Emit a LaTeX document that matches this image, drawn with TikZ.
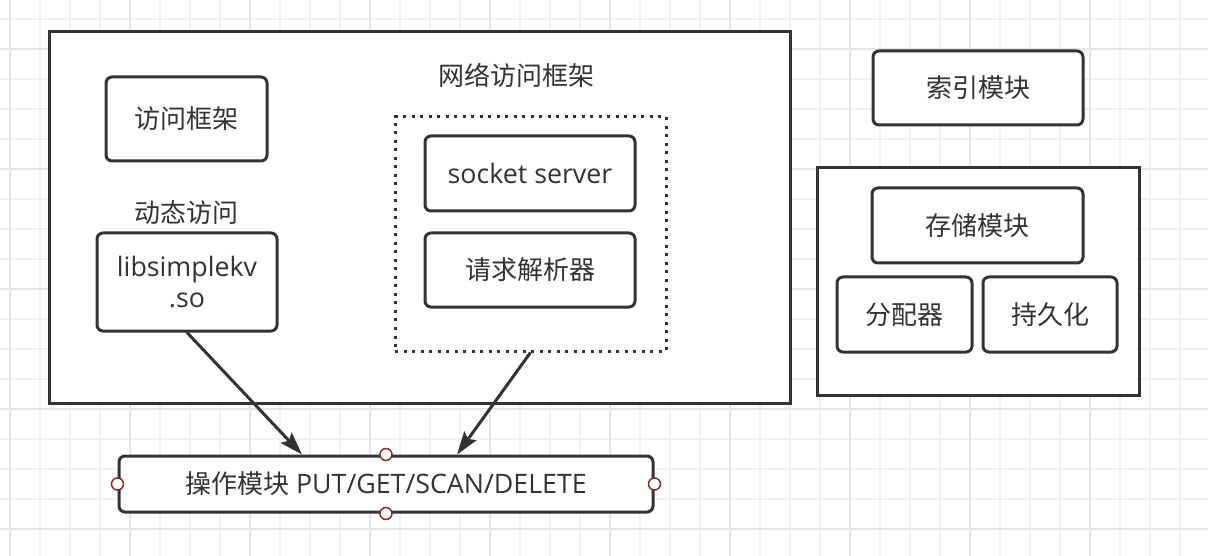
\documentclass[tikz,border=0pt]{standalone}
\usepackage{fontspec}
\setmainfont{Open Sans}[Scale=1.03]
\newfontfamily\cjk{Noto Sans CJK SC}
\usetikzlibrary{arrows.meta}
\definecolor{ln}{HTML}{333333}
\definecolor{txt}{HTML}{333333}
\definecolor{gmin}{HTML}{F2F2F2}
\definecolor{gmaj}{HTML}{E6E6E6}
\definecolor{cpt}{HTML}{8C2A2A}
\tikzset{
  sbox/.style={draw=ln, fill=white, line width=3pt, inner sep=0pt},
  rbox/.style={draw=ln, fill=white, line width=3pt, rounded corners=6pt, inner sep=0pt, align=center, text=txt},
  dotbox/.style={draw=ln, fill=white, line width=3pt, dash pattern=on 3pt off 5.5pt, inner sep=0pt},
  lbl/.style={text=txt, inner sep=0pt},
  conn/.style={draw=ln, line width=3pt, -{Stealth[length=23pt,width=15pt,inset=4pt]}},
  cpoint/.style={circle, draw=cpt, fill=white, line width=1.5pt, minimum size=12pt, inner sep=0pt}
}
\begin{document}
\begin{tikzpicture}[x=1pt,y=-1pt,font=\fontsize{26}{31}\selectfont]
\useasboundingbox (0,0) rectangle (1208,556);
\fill[white] (0,0) rectangle (1208,556);
% grid
\foreach \gx in {10,40,...,1190} \draw[gmin, line width=1.2pt] (\gx,0) -- (\gx,556);
\foreach \gy in {19,49,...,549} \draw[gmin, line width=1.2pt] (0,\gy) -- (1208,\gy);
\foreach \gx in {10,130,...,1190} \draw[gmaj, line width=1.2pt] (\gx,0) -- (\gx,556);
\foreach \gy in {49,169,...,529} \draw[gmaj, line width=1.2pt] (0,\gy) -- (1208,\gy);

% network access frame
\node[sbox, minimum width=741pt, minimum height=371pt] (outer) at (419.5,217.5) {};
\node[lbl] (title) at (516,75) {\cjk 网络访问框架};
\node[rbox, minimum width=161pt, minimum height=84pt] (fw) at (186.5,119) {\cjk 访问框架};
\node[lbl] (dyn) at (186,213) {\cjk 动态访问};
\node[rbox, minimum width=180pt, minimum height=98pt] (lib) at (187,282) {libsimplekv\\.so};
\node[dotbox, minimum width=271pt, minimum height=234pt] (dotted) at (530.5,234) {};
\node[rbox, minimum width=210pt, minimum height=75pt] (sock) at (530,173.5) {socket server};
\node[rbox, minimum width=210pt, minimum height=74pt] (req) at (530,270) {\cjk 请求解析器};

% index / storage
\node[rbox, minimum width=210pt, minimum height=74pt] (idx) at (978,88) {\cjk 索引模块};
\node[sbox, minimum width=322pt, minimum height=227pt] (storeout) at (978,281.5) {};
\node[rbox, minimum width=211pt, minimum height=75pt] (store) at (977.5,225.5) {\cjk 存储模块};
\node[rbox, minimum width=135pt, minimum height=75pt] (alloc) at (904.5,314.5) {\cjk 分配器};
\node[rbox, minimum width=134pt, minimum height=75pt] (pers) at (1050,314.5) {\cjk 持久化};

% operations
\node[rbox, minimum width=534pt, minimum height=56pt] (ops) at (386,484) {{\cjk 操作模块} PUT/GET/SCAN/DELETE};

\draw[conn] (lib.south) -- ([xshift=-84pt]ops.north);
\draw[conn] (dotted.south) -- ([xshift=71pt]ops.north);

\node[cpoint] (cpn) at (ops.north) {};
\node[cpoint] (cps) at (ops.south) {};
\node[cpoint] (cpw) at (ops.west) {};
\node[cpoint] (cpe) at (ops.east) {};
\end{tikzpicture}
\end{document}
